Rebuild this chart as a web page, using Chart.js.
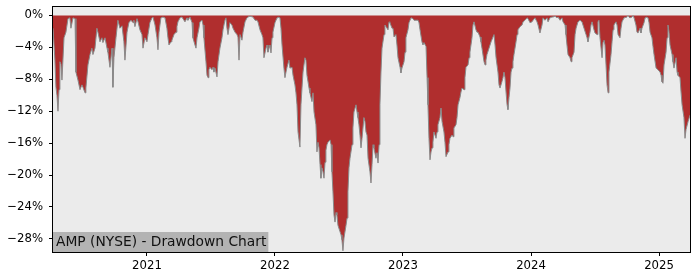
<!DOCTYPE html>
<html>
<head>
<meta charset="utf-8">
<script src="https://cdn.jsdelivr.net/npm/chart.js@4/dist/chart.umd.min.js"></script>
<style>
  html, body { margin: 0; padding: 0; background: #ffffff; }
  #wrap { width: 700px; height: 280px; position: relative; }
</style>
</head>
<body>
<div id="wrap"><canvas id="c" width="700" height="280"></canvas></div>
<script>
// ---- DATA: [decimal year, drawdown %] ----
const dd2020 = [[2020.266,-1.6],[2020.273,-1.6],[2020.281,-5.6],[2020.289,-9.0],[2020.297,-10.0],[2020.305,-12.0],[2020.313,-9.3],[2020.320,-5.8],[2020.328,-6.1],[2020.336,-8.1],[2020.352,-2.8],[2020.367,-2.1],[2020.383,-0.4],[2020.398,-0.3],[2020.406,-1.6],[2020.422,-0.3],[2020.438,-0.4],[2020.445,-7.1],[2020.461,-8.1],[2020.477,-9.3],[2020.492,-8.7],[2020.500,-9.0],[2020.516,-9.7],[2020.523,-9.1],[2020.539,-6.2],[2020.555,-4.9],[2020.570,-4.1],[2020.578,-4.9],[2020.594,-4.1],[2020.609,-1.6],[2020.617,-2.1],[2020.633,-3.3],[2020.648,-2.8],[2020.656,-3.4],[2020.672,-2.8],[2020.688,-4.1],[2020.695,-4.6],[2020.711,-6.5],[2020.727,-4.1],[2020.734,-9.0],[2020.742,-5.3],[2020.758,-2.8],[2020.773,-0.6],[2020.789,-1.6],[2020.805,-1.3],[2020.820,-3.3],[2020.828,-5.6],[2020.844,-2.1],[2020.859,-0.9],[2020.875,-0.6],[2020.891,-0.9],[2020.898,-0.6],[2020.906,-1.4],[2020.922,-0.4],[2020.930,-0.8],[2020.945,-1.8],[2020.961,-2.4],[2020.969,-4.1],[2020.984,-2.8]];
const dd2021 = [[2021.000,-3.3],[2021.008,-2.4],[2021.023,-0.9],[2021.039,-0.3],[2021.047,-0.2],[2021.063,-1.2],[2021.078,-2.8],[2021.086,-4.3],[2021.094,-2.1],[2021.109,-0.3],[2021.125,-0.2],[2021.141,-0.3],[2021.156,-1.6],[2021.164,-2.8],[2021.172,-3.7],[2021.188,-3.3],[2021.195,-3.1],[2021.211,-2.4],[2021.227,-2.1],[2021.234,-1.4],[2021.242,-0.8],[2021.258,-0.3],[2021.273,-0.2],[2021.297,-0.8],[2021.313,-0.3],[2021.320,-0.6],[2021.336,-0.2],[2021.352,-0.9],[2021.359,-2.8],[2021.375,-3.7],[2021.383,-4.1],[2021.391,-2.8],[2021.406,-1.6],[2021.414,-0.8],[2021.430,-0.6],[2021.438,-1.2],[2021.445,-2.8],[2021.461,-5.8],[2021.469,-7.5],[2021.477,-7.8],[2021.484,-6.8],[2021.492,-6.5],[2021.508,-6.8],[2021.516,-6.5],[2021.523,-7.1],[2021.531,-6.6],[2021.547,-7.7],[2021.555,-5.8],[2021.570,-4.1],[2021.586,-2.8],[2021.594,-1.8],[2021.609,-0.6],[2021.617,-0.3],[2021.625,-1.6],[2021.633,-2.4],[2021.648,-0.9],[2021.664,-1.2],[2021.672,-1.6],[2021.688,-2.1],[2021.703,-2.4],[2021.711,-2.7],[2021.719,-5.6],[2021.727,-2.4],[2021.742,-3.1],[2021.750,-2.1],[2021.766,-0.8],[2021.781,-0.3],[2021.789,-0.2],[2021.805,-0.1],[2021.828,-0.2],[2021.844,-0.6],[2021.859,-0.6],[2021.867,-0.8],[2021.883,-1.8],[2021.898,-2.4],[2021.906,-2.8],[2021.914,-5.3],[2021.930,-4.1],[2021.938,-3.7],[2021.945,-4.6],[2021.961,-3.7],[2021.969,-4.7],[2021.977,-2.8],[2021.984,-2.1]];
const dd2022 = [[2022.000,-0.9],[2022.016,-0.3],[2022.023,-0.2],[2022.039,-0.3],[2022.047,-1.6],[2022.055,-3.7],[2022.070,-6.6],[2022.078,-7.8],[2022.086,-7.1],[2022.094,-6.5],[2022.109,-5.6],[2022.117,-6.6],[2022.133,-6.5],[2022.141,-7.5],[2022.156,-8.7],[2022.164,-9.7],[2022.172,-11.2],[2022.180,-14.6],[2022.195,-16.5],[2022.203,-11.2],[2022.211,-9.1],[2022.219,-7.1],[2022.234,-5.3],[2022.242,-5.6],[2022.250,-7.5],[2022.266,-9.1],[2022.273,-9.7],[2022.289,-10.8],[2022.297,-9.7],[2022.305,-12.1],[2022.320,-13.7],[2022.328,-17.1],[2022.336,-15.9],[2022.344,-16.6],[2022.352,-18.7],[2022.359,-20.4],[2022.367,-19.1],[2022.375,-19.6],[2022.383,-20.4],[2022.391,-18.4],[2022.398,-16.9],[2022.406,-16.2],[2022.414,-15.9],[2022.430,-15.6],[2022.438,-16.2],[2022.445,-19.6],[2022.453,-22.1],[2022.461,-25.0],[2022.469,-25.9],[2022.477,-24.7],[2022.484,-25.0],[2022.492,-26.3],[2022.508,-27.1],[2022.516,-27.5],[2022.523,-28.1],[2022.531,-29.5],[2022.539,-27.9],[2022.555,-26.3],[2022.563,-25.4],[2022.570,-22.1],[2022.578,-19.1],[2022.586,-17.9],[2022.602,-16.2],[2022.609,-14.1],[2022.617,-12.1],[2022.633,-11.2],[2022.641,-12.1],[2022.648,-12.8],[2022.656,-13.7],[2022.664,-15.0],[2022.672,-16.6],[2022.680,-15.4],[2022.695,-12.8],[2022.703,-13.3],[2022.711,-14.6],[2022.719,-15.0],[2022.727,-17.9],[2022.742,-19.6],[2022.750,-21.0],[2022.758,-18.7],[2022.766,-16.2],[2022.773,-16.6],[2022.789,-17.9],[2022.797,-17.2],[2022.805,-18.5],[2022.813,-16.2],[2022.820,-11.2],[2022.828,-7.1],[2022.836,-4.1],[2022.852,-2.4],[2022.859,-1.2],[2022.867,-1.4],[2022.883,-1.8],[2022.891,-0.8],[2022.898,-0.9],[2022.914,-1.6],[2022.922,-1.6],[2022.930,-2.7],[2022.945,-2.4],[2022.953,-3.7],[2022.961,-5.3],[2022.977,-6.5],[2022.984,-7.2],[2022.992,-6.6]];
const dd2023 = [[2023.008,-5.8],[2023.016,-4.6],[2023.023,-2.8],[2023.039,-1.8],[2023.047,-0.9],[2023.055,-0.6],[2023.063,-0.3],[2023.078,-0.4],[2023.086,-0.6],[2023.102,-0.6],[2023.117,-0.6],[2023.125,-0.9],[2023.133,-1.8],[2023.148,-3.3],[2023.156,-3.7],[2023.164,-3.4],[2023.180,-3.9],[2023.188,-7.8],[2023.195,-11.2],[2023.203,-15.4],[2023.211,-18.1],[2023.219,-17.1],[2023.227,-16.6],[2023.234,-15.9],[2023.242,-14.6],[2023.258,-15.4],[2023.266,-14.6],[2023.273,-13.7],[2023.289,-12.8],[2023.297,-11.6],[2023.305,-13.3],[2023.320,-14.6],[2023.328,-15.9],[2023.336,-17.7],[2023.352,-17.1],[2023.359,-16.2],[2023.367,-15.4],[2023.383,-15.0],[2023.391,-15.2],[2023.398,-14.1],[2023.414,-13.7],[2023.422,-12.8],[2023.430,-11.2],[2023.445,-10.3],[2023.453,-9.6],[2023.461,-9.1],[2023.477,-9.3],[2023.484,-7.8],[2023.492,-6.5],[2023.508,-6.2],[2023.516,-5.3],[2023.523,-4.6],[2023.539,-2.8],[2023.547,-1.2],[2023.555,-0.8],[2023.570,-1.8],[2023.578,-2.1],[2023.586,-2.1],[2023.602,-2.7],[2023.609,-3.3],[2023.617,-4.1],[2023.633,-5.8],[2023.641,-6.2],[2023.648,-5.6],[2023.656,-4.9],[2023.672,-4.1],[2023.680,-3.7],[2023.688,-3.3],[2023.703,-2.7],[2023.711,-2.4],[2023.719,-3.7],[2023.727,-5.3],[2023.742,-7.1],[2023.750,-8.7],[2023.758,-9.1],[2023.773,-8.3],[2023.781,-7.8],[2023.789,-7.1],[2023.797,-7.8],[2023.805,-9.6],[2023.813,-11.2],[2023.820,-11.8],[2023.828,-10.3],[2023.836,-9.1],[2023.844,-7.1],[2023.852,-6.6],[2023.859,-5.8],[2023.867,-4.9],[2023.883,-3.3],[2023.891,-2.4],[2023.898,-1.8],[2023.914,-1.4],[2023.930,-1.2],[2023.938,-0.8],[2023.953,-0.6],[2023.969,-0.3],[2023.977,-0.4],[2023.992,-0.9]];
const dd2024 = [[2024.008,-0.8],[2024.016,-0.6],[2024.031,-0.3],[2024.047,-0.8],[2024.055,-1.2],[2024.070,-2.2],[2024.086,-1.2],[2024.094,-0.3],[2024.109,-0.6],[2024.125,-0.3],[2024.133,-0.8],[2024.148,-0.3],[2024.164,-0.2],[2024.172,-0.2],[2024.188,-0.1],[2024.203,-0.3],[2024.211,-0.2],[2024.227,-0.6],[2024.242,-0.3],[2024.250,-0.8],[2024.266,-1.2],[2024.273,-2.4],[2024.281,-3.7],[2024.289,-4.9],[2024.305,-5.3],[2024.313,-5.8],[2024.320,-5.3],[2024.336,-4.6],[2024.344,-2.4],[2024.352,-1.6],[2024.367,-0.8],[2024.383,-0.6],[2024.398,-0.8],[2024.406,-1.2],[2024.414,-1.6],[2024.430,-2.4],[2024.438,-2.8],[2024.445,-3.3],[2024.461,-2.1],[2024.469,-1.2],[2024.477,-0.8],[2024.492,-1.8],[2024.500,-2.2],[2024.516,-2.4],[2024.523,-0.8],[2024.531,-0.6],[2024.539,-2.8],[2024.555,-5.3],[2024.563,-3.3],[2024.570,-3.1],[2024.578,-3.7],[2024.586,-6.2],[2024.594,-8.7],[2024.602,-9.7],[2024.609,-7.1],[2024.625,-4.9],[2024.633,-3.3],[2024.641,-1.8],[2024.648,-1.2],[2024.664,-0.8],[2024.672,-1.2],[2024.680,-2.4],[2024.695,-2.8],[2024.703,-1.6],[2024.711,-0.8],[2024.727,-0.3],[2024.734,-0.2],[2024.742,-0.3],[2024.758,0.0],[2024.766,-0.2],[2024.773,-0.3],[2024.789,-0.2],[2024.797,0.0],[2024.805,-0.3],[2024.820,-1.2],[2024.828,-2.1],[2024.836,-2.2],[2024.852,-1.6],[2024.859,-2.2],[2024.867,-1.6],[2024.883,-0.9],[2024.891,-0.3],[2024.898,-0.2],[2024.914,-0.3],[2024.922,-0.9],[2024.930,-2.1],[2024.945,-2.8],[2024.953,-3.9],[2024.961,-4.9],[2024.977,-6.6],[2024.984,-6.6],[2024.992,-6.8]];
const dd2025 = [[2025.008,-7.1],[2025.016,-7.5],[2025.023,-8.3],[2025.031,-8.5],[2025.039,-6.2],[2025.055,-4.6],[2025.063,-2.8],[2025.070,-1.2],[2025.078,-2.1],[2025.086,-3.7],[2025.102,-4.9],[2025.109,-5.8],[2025.117,-6.6],[2025.133,-5.3],[2025.141,-7.1],[2025.148,-7.5],[2025.164,-7.8],[2025.172,-9.6],[2025.180,-11.2],[2025.195,-12.8],[2025.203,-15.4],[2025.211,-14.3],[2025.227,-13.3],[2025.242,-12.5]];

const yearTicks = [2021, 2022, 2023, 2024, 2025];
const pctTicks = [0, -4, -8, -12, -16, -20, -24, -28];
const chartLabel = 'AMP (NYSE) - Drawdown Chart';

const points = [].concat(dd2020, dd2021, dd2022, dd2023, dd2024, dd2025).map(p => ({x: p[0], y: p[1]}));

const FONT = 'DejaVu Sans';

const frame = {
  id: 'frame',
  beforeDraw(chart) {
    const {ctx, chartArea: a} = chart;
    ctx.save();
    ctx.fillStyle = '#ebebeb';
    ctx.fillRect(a.left, a.top, a.right - a.left, a.bottom - a.top);
    ctx.restore();
  },
  afterDatasetsDraw(chart) {
    const {ctx, chartArea: a} = chart;
    ctx.save();
    ctx.font = '13.8px "' + FONT + '"';
    const w = ctx.measureText(chartLabel).width;
    const h = 20;
    ctx.fillStyle = '#b3b3b3';
    ctx.fillRect(a.left, a.bottom - h, w + 5, h);
    ctx.fillStyle = '#111111';
    ctx.textBaseline = 'middle';
    ctx.fillText(chartLabel, a.left + 3, a.bottom - h / 2 + 0.5);
    ctx.strokeStyle = '#000000';
    ctx.lineWidth = 1;
    ctx.strokeRect(a.left - 0.5, a.top - 0.5, a.right - a.left + 1, a.bottom - a.top + 1);
    ctx.restore();
  }
};

new Chart(document.getElementById('c'), {
  type: 'line',
  data: {
    datasets: [{
      data: points,
      fill: 'origin',
      backgroundColor: 'rgb(176,46,46)',
      borderColor: '#8a8a8a',
      borderWidth: 1,
      pointRadius: 0,
      tension: 0
    }]
  },
  options: {
    responsive: false,
    animation: false,
    devicePixelRatio: 1,
    layout: { padding: { top: 7, right: 10, left: 0, bottom: 0 } },
    plugins: { legend: { display: false }, tooltip: { enabled: false }, title: { display: false } },
    scales: {
      x: {
        type: 'linear',
        min: 2020.266,
        max: 2025.242,
        afterBuildTicks: s => { s.ticks = yearTicks.map(v => ({value: v})); },
        afterFit: s => { s.height = 28; s.paddingLeft = 0; s.paddingRight = 0; },
        grid: { display: true, drawOnChartArea: false, drawTicks: true, tickLength: 4, color: '#000000' },
        border: { display: false },
        ticks: { color: '#000000', font: { family: FONT, size: 11.7 }, padding: 3, maxRotation: 0, autoSkip: false, callback: v => String(v) }
      },
      y: {
        type: 'linear',
        min: -29.65,
        max: 1.06,
        afterBuildTicks: s => { s.ticks = pctTicks.map(v => ({value: v})); },
        afterFit: s => { s.width = 53; s.paddingTop = 0; s.paddingBottom = 0; },
        grid: { display: true, drawOnChartArea: false, drawTicks: true, tickLength: 4, color: '#000000' },
        border: { display: false },
        ticks: { color: '#000000', font: { family: FONT, size: 11.7 }, padding: 6, autoSkip: false, callback: v => (v < 0 ? '\u2212' : '') + Math.abs(v) + '%' }
      }
    }
  },
  plugins: [frame]
});
</script>
</body>
</html>
